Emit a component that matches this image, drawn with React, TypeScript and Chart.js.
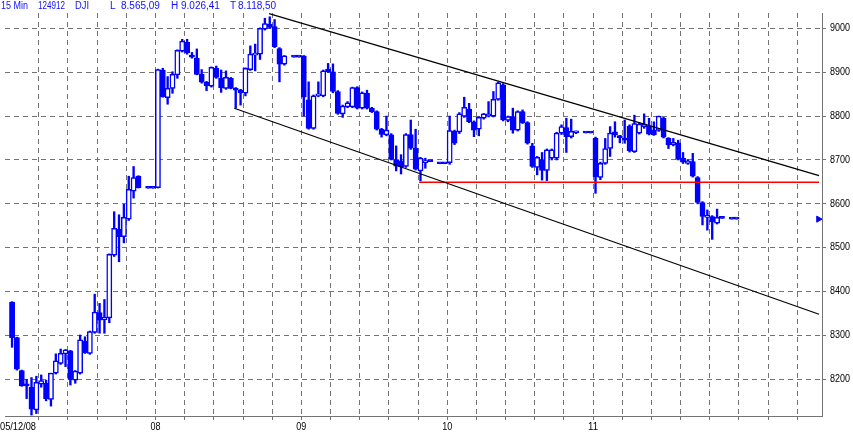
import { useEffect, useRef } from 'react';
import { Chart, registerables } from 'chart.js';

Chart.register(...registerables);

// [open, high, low, close]; null = empty slot. 30 slots per trading day.
type Candle = [number, number, number, number] | null;

const dayLabels = ['05/12/08', '08', '09', '10', '11'];

const dec05: Candle[] = [
  [8376, 8377, 8273, 8295], [8295, 8296, 8221, 8223], [8220, 8221, 8184, 8185], [8186, 8200, 8156, 8185],
  [8182, 8204, 8118.5, 8132], [8130, 8207, 8122, 8193], [8189, 8210, 8182, 8197], [8191, 8198, 8151, 8156],
  [8154, 8214, 8139, 8214], [8214, 8258, 8212, 8242], [8236, 8269, 8234, 8259], [8258, 8268, 8229, 8267],
  [8265, 8266, 8187, 8200], [8198, 8220, 8191, 8219], [8214, 8301, 8212, 8290], [8287, 8297, 8259, 8261],
  [8259, 8310, 8257, 8309], [8307, 8394, 8305, 8353], [8352, 8373, 8305, 8335], [8336, 8382, 8305, 8342],
  [8340, 8486, 8329, 8485], [8483, 8582, 8480, 8544], [8542, 8575, 8468, 8525], [8525, 8599, 8511, 8569],
  [8565, 8663, 8562, 8633], [8629, 8685, 8613, 8660], [8663, 8664, 8636, 8637], null,
  [8635.4, 8635.4, 8635.4, 8635.4], [8635.4, 8635.4, 8635.4, 8635.4],
];

const dec08: Candle[] = [
  [8637, 8907, 8636, 8906], [8905, 8909, 8843, 8844], [8842, 8890, 8827, 8863], [8863, 8901, 8852, 8895],
  [8894, 8951, 8886, 8950], [8948, 8975, 8946, 8971], [8968, 8975, 8941, 8944], [8939, 8945, 8932, 8934],
  [8932, 8953, 8894, 8895], [8895, 8906, 8875, 8877], [8877, 8879, 8858, 8869], [8868, 8912, 8866, 8911],
  [8909, 8914, 8886, 8888], [8886, 8905, 8854, 8865], [8863, 8903, 8861, 8888], [8886, 8888, 8862, 8863],
  [8863, 8865, 8818, 8859], [8859, 8861, 8825, 8853], [8852, 8910, 8846, 8909], [8906, 8960, 8904, 8941],
  [8939, 8964, 8903, 8943], [8941, 9001, 8929, 9000], [8998, 9023, 8996, 9011], [9009, 9026.4, 9000, 9002],
  [9004, 9020, 8956, 8958], [8954, 8956, 8878, 8918], [8918, 8938, 8916, 8937], null,
  [8934.2, 8934.2, 8934.2, 8934.2], [8934.2, 8934.2, 8934.2, 8934.2],
];

const dec09: Candle[] = [
  [8937, 8938, 8800, 8843], [8837, 8878, 8770, 8772], [8772, 8848, 8770, 8846], [8846, 8878, 8844, 8849],
  [8846, 8905, 8844, 8903], [8907, 8920, 8899, 8901], [8901, 8919, 8853, 8856], [8856, 8858, 8804, 8806],
  [8805, 8825, 8797, 8823], [8821, 8833, 8819, 8830], [8821, 8866, 8819, 8865], [8865, 8867, 8816, 8818],
  [8818, 8855, 8816, 8853], [8852, 8859, 8816, 8818], [8818, 8820, 8808, 8810], [8810, 8812, 8768, 8770],
  [8770, 8772, 8752, 8758], [8757, 8800, 8755, 8768], [8757, 8760, 8700, 8701], [8701, 8732, 8675, 8686],
  [8698, 8712, 8668, 8684], [8685, 8760, 8683, 8758], [8758, 8791, 8724, 8727], [8727, 8770, 8677, 8679],
  [8675, 8706, 8652, 8704], [8694, 8704, 8681, 8697], [8696, 8696, 8696, 8696], null,
  [8691.3, 8691.3, 8691.3, 8691.3], [8691.3, 8691.3, 8691.3, 8691.3],
];

const dec10: Candle[] = [
  [8694, 8800, 8690, 8767], [8765, 8768, 8735, 8738], [8764, 8808, 8760, 8805], [8799, 8843, 8797, 8820],
  [8816, 8829, 8785, 8787], [8787, 8789, 8753, 8768], [8770, 8799, 8755, 8797], [8795, 8806, 8793, 8805],
  [8800, 8833, 8798, 8805], [8800, 8856, 8798, 8838], [8838, 8877, 8836, 8876], [8871, 8874, 8789, 8791],
  [8790, 8800, 8787, 8799], [8799, 8818, 8761, 8768], [8768, 8812, 8766, 8810], [8810, 8814, 8783, 8785],
  [8785, 8787, 8736, 8738], [8732, 8738, 8683, 8685], [8683, 8708, 8666, 8706], [8701, 8717, 8654, 8676],
  [8676, 8725, 8653, 8723], [8704, 8725, 8700, 8723], [8704, 8763, 8700, 8761], [8761, 8780, 8758, 8776],
  [8774, 8795, 8717, 8753], [8753, 8793, 8750, 8765], [8762, 8766, 8760, 8764], null,
  [8761.4, 8761.4, 8761.4, 8761.4], [8761.4, 8761.4, 8761.4, 8761.4],
];

const dec11: Candle[] = [
  [8749, 8752, 8624, 8662], [8660, 8695, 8655, 8692], [8692, 8749, 8690, 8726], [8726, 8776, 8708, 8761],
  [8764, 8787, 8752, 8757], [8754, 8756, 8739, 8751], [8750, 8791, 8738, 8745], [8777, 8780, 8718, 8721],
  [8719, 8802, 8717, 8783], [8761, 8785, 8759, 8782], [8776, 8805, 8772, 8782], [8777, 8795, 8757, 8759],
  [8768, 8787, 8756, 8757], [8767, 8800, 8765, 8800], [8795, 8797, 8750, 8752], [8749, 8751, 8726, 8734],
  [8734, 8749, 8732, 8740], [8739, 8745, 8700, 8701], [8704, 8717, 8692, 8695], [8692, 8701, 8690, 8698],
  [8696, 8715, 8661, 8663], [8660, 8662, 8600, 8603], [8603, 8605, 8552, 8571], [8569, 8586, 8540, 8571],
  [8571, 8573, 8519, 8559], [8556, 8588, 8554, 8569], [8567, 8567, 8567, 8567], null,
  [8565.09, 8565.09, 8565.09, 8565.09], [8565.09, 8565.09, 8565.09, 8565.09],
];

const days: Candle[][] = [dec05, dec08, dec09, dec10, dec11];
const slotsPerDay = 30;

const yTicks = [8200, 8300, 8400, 8500, 8600, 8700, 8800, 8900, 9000];
const gridSlots = [6, 12, 18, 24, 30, 36, 42, 48, 54, 60, 66, 72, 78, 84, 90, 96, 102, 108, 114, 120, 126, 132, 138, 144, 150, 156, 162];

const headerTexts = ['15 Min', '124912', 'DJI', 'L', '8.565,09', 'H', '9.026,41', 'T', '8.118,50'];

// trend lines (x in slot units, y in index points)
const upperChannel = [{ x: 53.36, y: 9033.5 }, { x: 166.47, y: 8664.3 }];
const lowerChannel = [{ x: 46.21, y: 8817.7 }, { x: 166.47, y: 8348.2 }];
const supportLine = [{ x: 84.23, y: 8649.0 }, { x: 166.47, y: 8649.0 }];
const lastPrice = [{ x: 166.36, y: 8565.09 }];

const BLUE = '#0000ff';
const GRID = '#737373';

export default function App() {
  const ref = useRef<HTMLCanvasElement | null>(null);

  useEffect(() => {
    if (!ref.current) return;
    const slots: { x: number; o: number; h: number; l: number; c: number }[] = [];
    days.forEach((day, d) => {
      day.forEach((cd, j) => {
        if (cd) slots.push({ x: d * slotsPerDay + j + 0.5, o: cd[0], h: cd[1], l: cd[2], c: cd[3] });
      });
    });
    const wickData = slots.map((s) => ({ x: s.x, y: [s.l, s.h] }));
    const bodyData = slots.map((s) => ({ x: s.x, y: [s.o, s.c], up: s.c > s.o }));

    const headerPos = [
      [1, 27], [38, 27], [75, 14], [110, 6], [121, 40], [171, 8], [181, 39], [230, 7], [238, 41],
    ];

    const textPlugin = {
      id: 'texts',
      afterDraw(chart: any) {
        const ctx = chart.ctx as CanvasRenderingContext2D;
        const xs = chart.scales.x;
        const ys = chart.scales.y;
        ctx.save();
        ctx.font = '10px "Liberation Sans", Arial, sans-serif';
        ctx.fillStyle = '#000';
        ctx.textBaseline = 'middle';
        ctx.textAlign = 'left';
        yTicks.forEach((v) => ctx.fillText(String(v), 830, ys.getPixelForValue(v), 20));
        ctx.textBaseline = 'alphabetic';
        dayLabels.forEach((t, d) => {
          if (d === 0) {
            ctx.textAlign = 'left';
            ctx.fillText(t, 0, 430, 36);
          } else {
            ctx.textAlign = 'center';
            ctx.fillText(t, xs.getPixelForValue(d * slotsPerDay), 430, 10);
          }
        });
        ctx.font = '10px "Liberation Sans", Arial, sans-serif';
        ctx.fillStyle = '#1010ff';
        ctx.textAlign = 'left';
        headerTexts.forEach((t, i) => {
          const [x, w] = headerPos[i];
          ctx.fillText(t, x, 9, w);
        });
        ctx.restore();
      },
    };

    const chart = new Chart(ref.current, {
      type: 'bar',
      data: {
        datasets: [
          {
            type: 'bar',
            label: 'wick',
            data: wickData as any,
            backgroundColor: BLUE,
            borderWidth: 0,
            barThickness: 1.7,
            grouped: false,
            order: 2,
          } as any,
          {
            type: 'bar',
            label: 'body',
            data: bodyData as any,
            backgroundColor: (c: any) => (c.raw && c.raw.up ? '#ffffff' : BLUE),
            borderColor: BLUE,
            borderWidth: 1.5,
            borderSkipped: false,
            barThickness: 5.2,
            minBarLength: 2,
            grouped: false,
            order: 1,
          } as any,
          {
            type: 'line',
            data: upperChannel,
            borderColor: '#000',
            borderWidth: 1.2,
            pointRadius: 0,
            order: 0,
          } as any,
          {
            type: 'line',
            data: lowerChannel,
            borderColor: '#000',
            borderWidth: 1.2,
            pointRadius: 0,
            order: 0,
          } as any,
          {
            type: 'line',
            data: supportLine,
            borderColor: '#ff0000',
            borderWidth: 1.6,
            pointRadius: 0,
            order: 0,
          } as any,
          {
            type: 'line',
            data: lastPrice,
            showLine: false,
            pointStyle: 'triangle',
            rotation: 90,
            pointRadius: 3.5,
            backgroundColor: BLUE,
            borderColor: BLUE,
            borderWidth: 1,
            order: 0,
          } as any,
        ],
      },
      options: {
        animation: false,
        responsive: false,
        events: [],
        layout: { padding: { top: 13, left: 0, right: 0, bottom: 0 } },
        plugins: { legend: { display: false }, tooltip: { enabled: false } },
        scales: {
          x: {
            type: 'linear',
            min: -0.95,
            max: 167.08,
            offset: false,
            afterBuildTicks: (s: any) => {
              s.ticks = gridSlots.map((v) => ({ value: v }));
            },
            afterFit: (s: any) => {
              s.height = 19;
              s.paddingLeft = 0;
              s.paddingRight = 0;
            },
            ticks: { display: false },
            grid: { color: GRID, lineWidth: 1, drawTicks: true, tickLength: 4, tickColor: GRID, offset: false },
            border: { display: true, color: GRID, width: 1, dash: [5, 4] },
          } as any,
          y: {
            type: 'linear',
            position: 'right',
            min: 8116.4,
            max: 9034.9,
            afterBuildTicks: (s: any) => {
              s.ticks = yTicks.map((v) => ({ value: v }));
            },
            afterFit: (s: any) => {
              s.width = 31;
              s.paddingTop = 0;
              s.paddingBottom = 0;
            },
            ticks: { display: false },
            grid: { color: GRID, lineWidth: 1, drawTicks: true, tickLength: 4, tickColor: GRID },
            border: { display: true, color: GRID, width: 1, dash: [5, 4] },
          } as any,
        },
      },
      plugins: [textPlugin],
    });
    return () => chart.destroy();
  }, []);

  return (
    <div style={{ position: 'absolute', left: 0, top: 0, width: 853, height: 435, background: '#fff' }}>
      <canvas ref={ref} width={853} height={435} style={{ display: 'block' }} />
    </div>
  );
}
